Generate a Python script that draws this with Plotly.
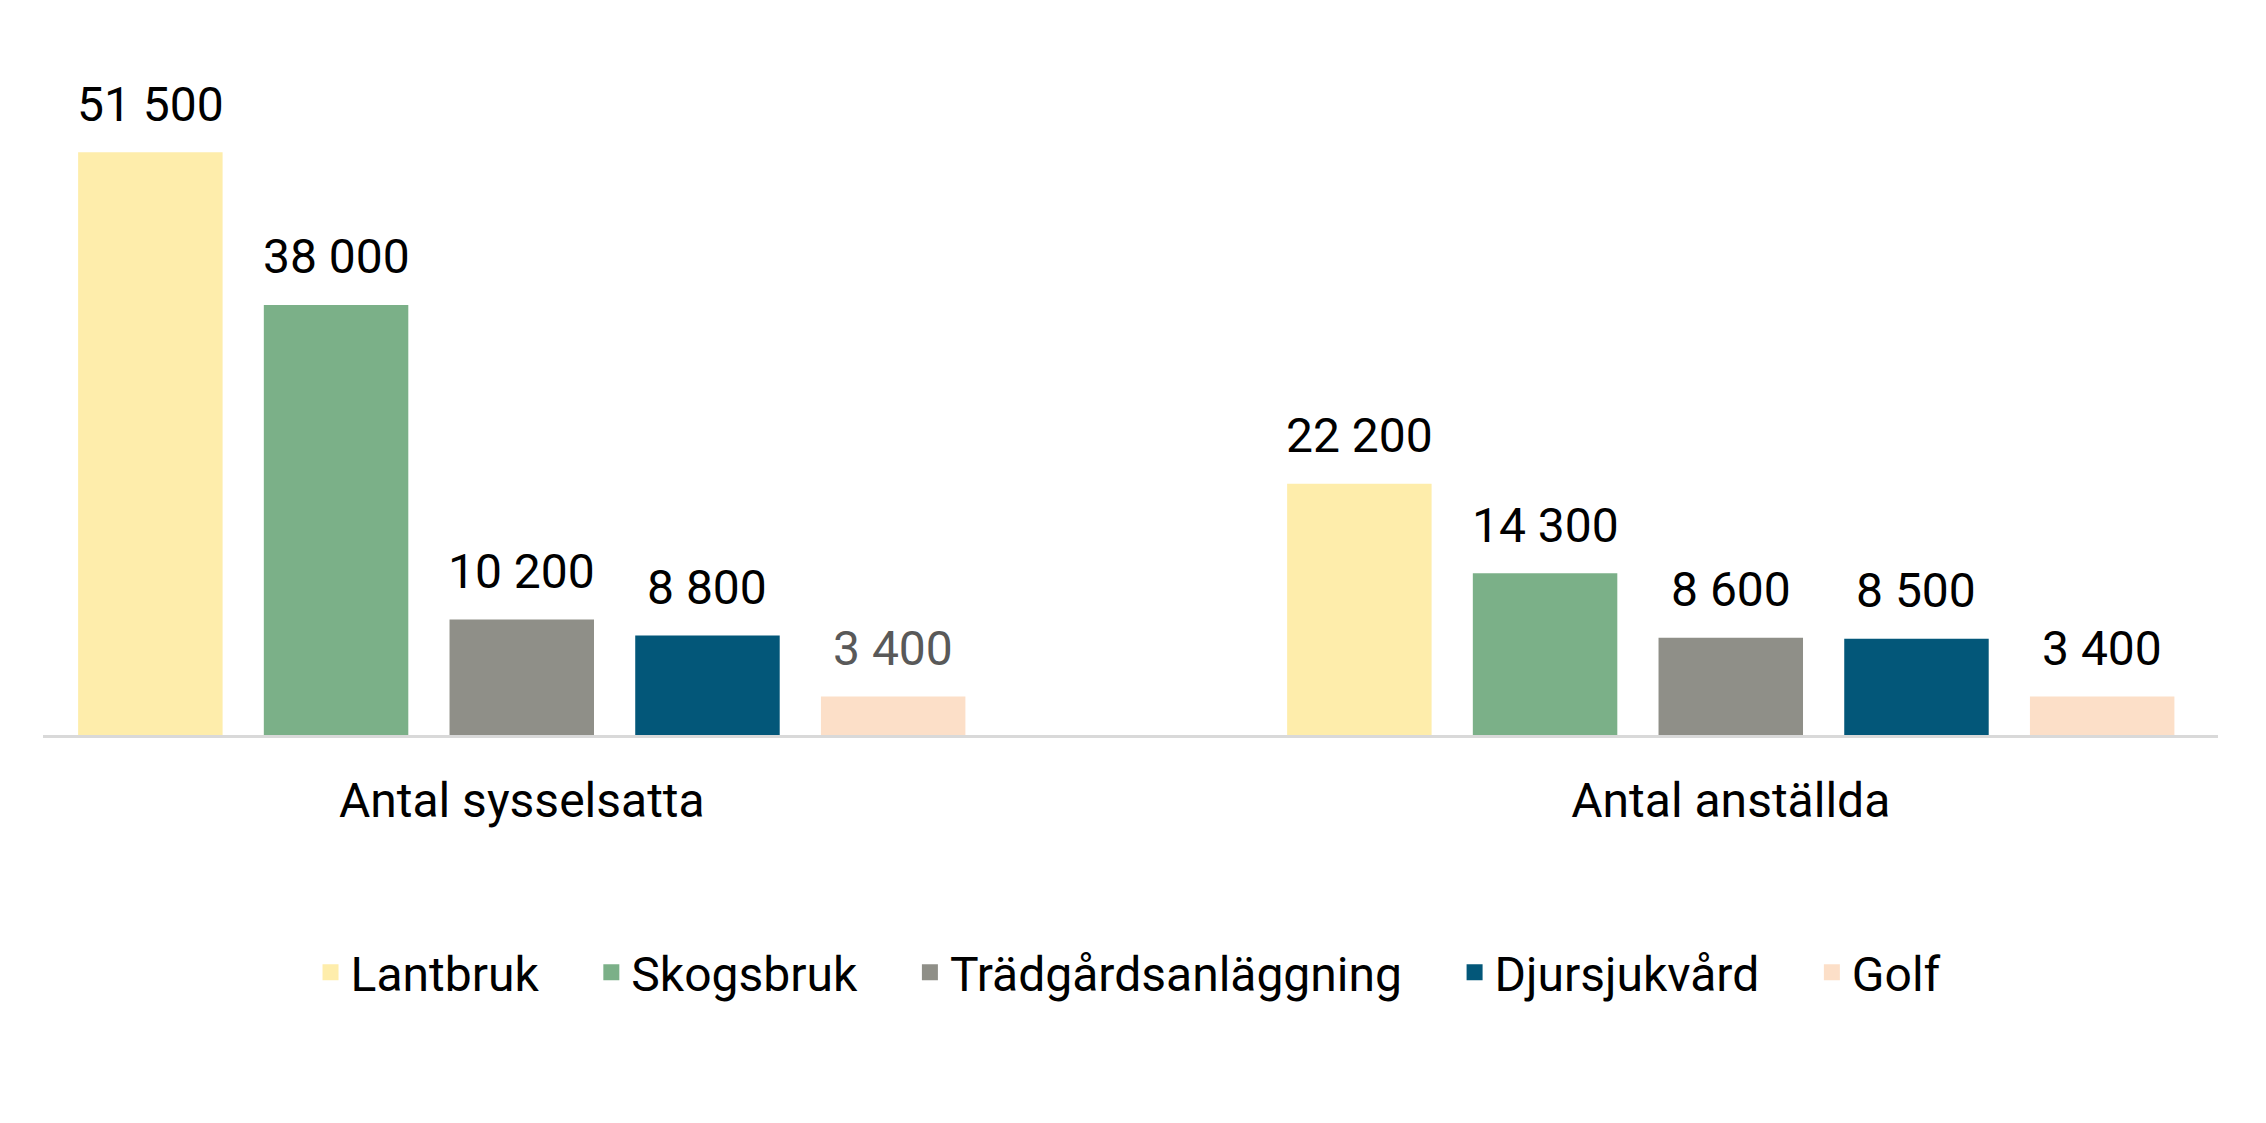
import plotly.graph_objects as go

categories = ['Antal sysselsatta', 'Antal anställda']
series = ['Lantbruk', 'Skogsbruk', 'Trädgårdsanläggning', 'Djursjukvård', 'Golf']
values = {
    'Lantbruk': [51500, 22200],
    'Skogsbruk': [38000, 14300],
    'Trädgårdsanläggning': [10200, 8600],
    'Djursjukvård': [8800, 8500],
    'Golf': [3400, 3400],
}
colors = ['#FEEDAB', '#7BB088', '#8F8F88', '#035779', '#FCDFC8']
label_colors = {'Golf': ['#595959', '#000000']}

FONT = 'Roboto, Liberation Sans, sans-serif'
bargap = 0.232


def fmt(v):
    # swedish thousands separator
    return f'{v:,}'.replace(',', ' ')


fig = go.Figure()
annotations = []
n = len(series)
slot = (1 - bargap) / n
for j, (name, color) in enumerate(zip(series, colors)):
    fig.add_trace(go.Bar(
        name=name,
        x=categories,
        y=values[name],
        marker=dict(color=color, line=dict(width=0)),
        showlegend=False,
        hoverinfo='skip',
    ))
    # legend entry with a bigger square, padded so entries spread out like the original
    pad = '\u00a0' * 4 if j < n - 1 else ''
    fig.add_trace(go.Scatter(
        name=name + pad, x=[None], y=[None], mode='markers',
        marker=dict(symbol='square', size=28, color=color),
    ))
    for i, v in enumerate(values[name]):
        col = label_colors.get(name, ['#000000', '#000000'])[i]
        annotations.append(dict(
            x=i + (j - (n - 1) / 2) * slot, y=v, xref='x', yref='y',
            text=fmt(v), showarrow=False, yanchor='middle', yshift=48,
            font=dict(family=FONT, size=48, color=col),
        ))

# the page body adds an 8px margin, so the figure is 8px smaller on each side
fig.update_layout(
    width=2258, height=1115,
    margin=dict(l=35, r=48, t=48, b=388, autoexpand=False),
    plot_bgcolor='white', paper_bgcolor='white',
    barmode='group', bargap=bargap, bargroupgap=0.222,
    font=dict(family=FONT, size=48, color='#000000'),
    annotations=annotations,
    legend=dict(orientation='h', x=0.123, xanchor='left', y=-0.35, yanchor='middle',
                font=dict(family=FONT, size=48), itemsizing='trace'),
    xaxis=dict(range=[-0.396, 1.403], showline=True, linecolor='#D9D9D9', linewidth=3,
               ticks='', ticklabelstandoff=21, showgrid=False, automargin=False,
               tickfont=dict(family=FONT, size=48)),
    yaxis=dict(range=[0, 60000], visible=False, showgrid=False, zeroline=False,
               automargin=False),
)

fig.write_html('out.html')
